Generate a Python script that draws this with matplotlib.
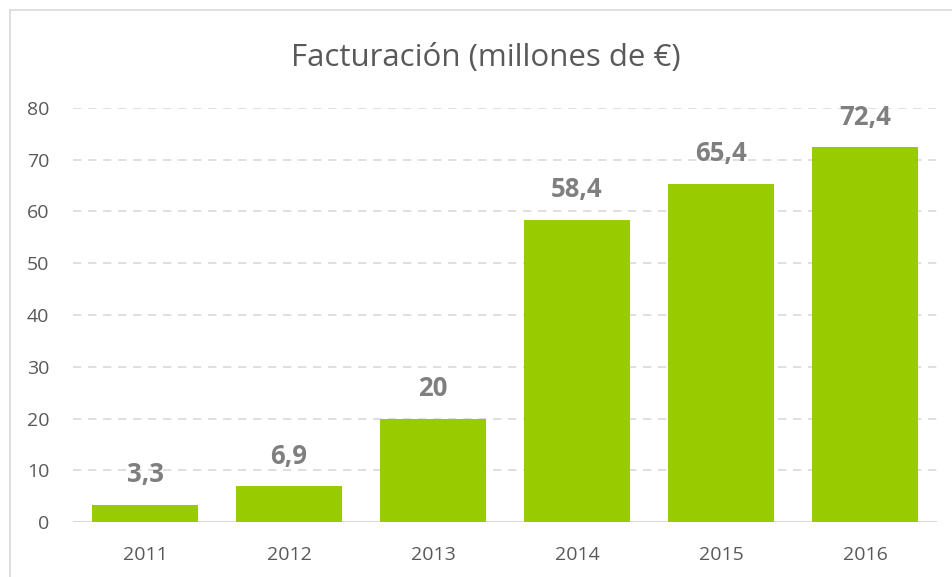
import matplotlib
matplotlib.use("Agg")
import matplotlib.pyplot as plt
from matplotlib.lines import Line2D

years = ["2011", "2012", "2013", "2014", "2015", "2016"]
values = [3.3, 6.9, 20, 58.4, 65.4, 72.4]
labels = ["3,3", "6,9", "20", "58,4", "65,4", "72,4"]
yticks = [0, 10, 20, 30, 40, 50, 60, 70, 80]

plt.rcParams['font.family'] = ['Open Sans', 'DejaVu Sans']

fig = plt.figure(figsize=(9.52, 5.77), dpi=100)
ax = fig.add_axes([73/952, 1-522/577, (937-73)/952, (522-108)/577])

x = list(range(len(years)))
ax.bar(x, values, width=0.73, color="#99CC00", zorder=3)
for xi, v, lab in zip(x, values, labels):
    ax.text(xi, v + 5.8, lab, ha="center", va="center", fontsize=18.5,
            fontweight="bold", color="#7F7F7F", zorder=4)

ax.set_xlim(-0.5, 5.5)
ax.set_ylim(0, 80)
ax.set_yticks(yticks)
ax.set_xticks(x)
ax.set_xticklabels(years)
ax.tick_params(axis="both", length=0, labelsize=14, colors="#595959")
ax.tick_params(axis="y", pad=17)
ax.tick_params(axis="x", pad=17)
for s in ax.spines.values():
    s.set_visible(False)
for t in yticks[1:]:
    ax.axhline(t, color="#D9D9D9", lw=1.2, ls=(0, (5, 4)), zorder=1)
ax.axhline(0, color="#D9D9D9", lw=1.5, zorder=2)

fig.text(486/952, 1-58/577, "Facturación (millones de €)", ha="center", va="center",
         fontsize=22.5, color="#595959")

# outer border
fig.add_artist(Line2D([10/952, 10/952], [0, 1-10/577], color="#D9D9D9", lw=1.2, transform=fig.transFigure))
fig.add_artist(Line2D([10/952, 1], [1-10/577, 1-10/577], color="#D9D9D9", lw=1.2, transform=fig.transFigure))

fig.savefig("out.png", dpi=100)
